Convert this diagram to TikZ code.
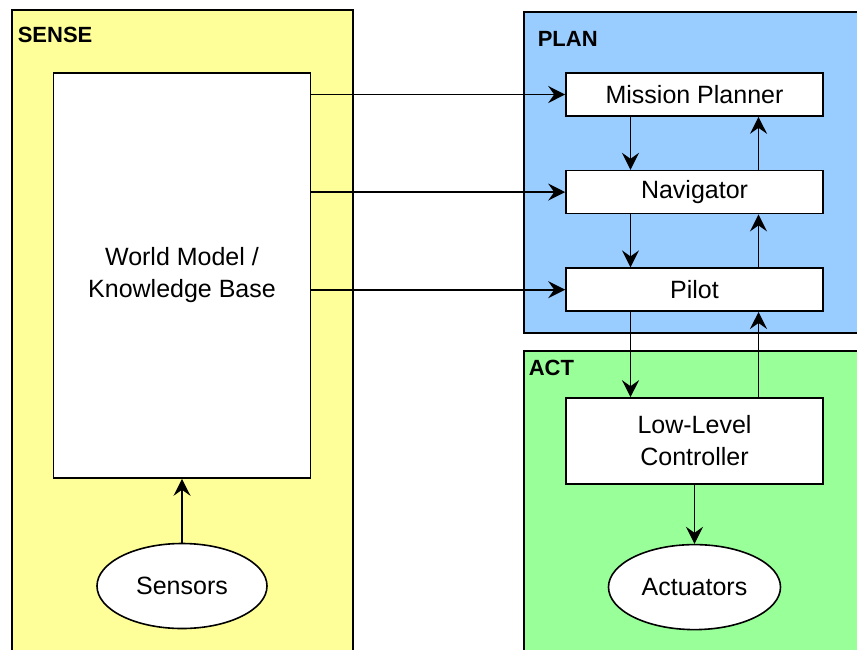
\documentclass[tikz,border=0pt]{standalone}
\usepackage{fontspec}
\setmainfont{Liberation Sans}
\usetikzlibrary{arrows.meta,positioning,shapes.geometric}

\definecolor{senseyellow}{HTML}{FFFF99}
\definecolor{planblue}{HTML}{99CCFF}
\definecolor{actgreen}{HTML}{99FF99}

\begin{document}
\begin{tikzpicture}[x=1pt,y=-1pt,line width=1.6pt,>={Stealth[length=17pt,width=17pt,inset=6pt]},
    node distance=53pt,
    every node/.style={font=\fontsize{25}{32}\selectfont},
    layer/.style={draw,line width=1.6pt,anchor=north west,inner sep=0pt},
    layertitle/.style={anchor=base west,inner sep=0pt,font=\fontsize{22}{26}\selectfont\bfseries},
    block/.style={draw,fill=white,minimum width=257pt,inner sep=0pt,align=center},
    device/.style={ellipse,draw,fill=white,inner sep=0pt}]

\clip (0,0) rectangle (857,649);

% layers
\node [layer, fill=senseyellow, minimum width=341pt, minimum height=660pt] (sense) at (11,9) {};
\node [layer, fill=planblue, minimum width=350pt, minimum height=321pt] (plan) at (523,11) {};
\node [layer, fill=actgreen, minimum width=350pt, minimum height=320pt] (act) at (523,350) {};

\node [layertitle] (sensetitle) at ([shift={(6,33)}]sense.north west) {SENSE};
\node [layertitle] (plantitle) at ([shift={(14,35)}]plan.north west) {PLAN};
\node [layertitle] (acttitle) at ([shift={(5,25)}]act.north west) {ACT};

% sense
\node [block, minimum height=405pt] (world) at (182,275.5) {World Model /\\Knowledge Base};
\node [device, minimum width=170pt, minimum height=85pt] (sensors) at (182,586) {Sensors};

% plan
\node [block, minimum height=43pt] (mission) at (694.5,94.5) {Mission Planner};
\node [block, minimum height=43pt] (navigator) [below=of mission] {Navigator};
\node [block, minimum height=43pt] (pilot) [below=of navigator] {Pilot};

% act
\node [block, minimum height=86pt] (llc) at (694.5,441) {Low-Level\\Controller};
\node [device, minimum width=172pt, minimum height=85pt] (actuators) [below=59pt of llc] {Actuators};

% connectors
\draw [->] (sensors) -- (world);
\draw [->] (world.east |- mission.west) -- (mission.west);
\draw [->] (world.east |- navigator.west) -- (navigator.west);
\draw [->] (world.east |- pilot.west) -- (pilot.west);

\draw [->] ([xshift=-64pt]mission.south) -- ([xshift=-64pt]navigator.north);
\draw [->] ([xshift=-64pt]navigator.south) -- ([xshift=-64pt]pilot.north);
\draw [->] ([xshift=-64pt]pilot.south) -- ([xshift=-64pt]llc.north);
\draw [->] ([xshift=64pt]llc.north) -- ([xshift=64pt]pilot.south);
\draw [->] ([xshift=64pt]pilot.north) -- ([xshift=64pt]navigator.south);
\draw [->] ([xshift=64pt]navigator.north) -- ([xshift=64pt]mission.south);
\draw [->] (llc) -- (actuators);

\end{tikzpicture}
\end{document}
